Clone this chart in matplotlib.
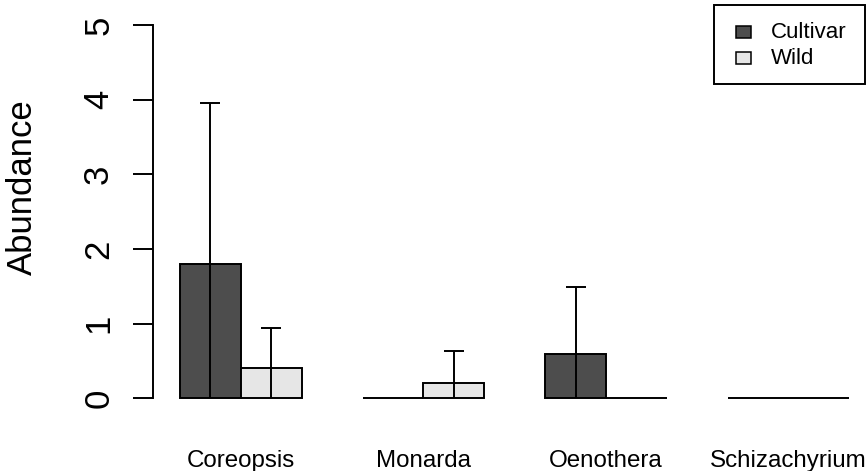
import matplotlib
matplotlib.use("Agg")
import matplotlib.pyplot as plt
from matplotlib.patches import Rectangle
import numpy as np

plt.rcParams['font.family'] = ['Liberation Sans', 'DejaVu Sans']

# data
species = ["Coreopsis", "Monarda", "Oenothera", "Schizachyrium"]
cultivar_mean = [1.8, 0.0, 0.6, 0.0]
cultivar_sd = [2.16, 0.0, 0.89, 0.0]
wild_mean = [0.4, 0.2, 0.0, 0.0]
wild_sd = [0.54, 0.44, 0.0, 0.0]
yticks = [0, 1, 2, 3, 4, 5]

W, H = 868, 471
fig = plt.figure(figsize=(W / 100, H / 100), dpi=100)
ax = fig.add_axes([0, 0, 1, 1])
ax.patch.set_alpha(0)

# pixel mapping of the R plot: x=1 at px 180, 60.85 px per bar; y=0 at px 398.3, 74.66 px per unit
xs = 60.85
ys = 74.66
ax.set_xlim(1 - 180 / xs, 1 + (W - 180) / xs)
ax.set_ylim(-(H - 398.3) / ys, 398.3 / ys)

centers = np.array([2, 5, 8, 11])
x_cult = centers - 0.5
x_wild = centers + 0.5

lw = 1.4
ax.bar(x_cult, cultivar_mean, width=1, color="#4d4d4d", edgecolor="black", linewidth=lw, zorder=2)
ax.bar(x_wild, wild_mean, width=1, color="#e6e6e6", edgecolor="black", linewidth=lw, zorder=2)

# error bars: line from baseline up to mean + sd, with a flat cap
cap = 10 / xs
for xpos, m, s in zip(list(x_cult) + list(x_wild), cultivar_mean + wild_mean, cultivar_sd + wild_sd):
    if s > 0:
        top = m + s
        ax.vlines(xpos, 0, top, color="black", linewidth=lw, zorder=3)
        ax.hlines(top, xpos - cap, xpos + cap, color="black", linewidth=lw, zorder=3)

# y axis like R's
for sp in ["top", "right", "bottom"]:
    ax.spines[sp].set_visible(False)
ax.spines["left"].set_position(("data", 0.56))
ax.spines["left"].set_bounds(0, 5)
ax.spines["left"].set_linewidth(lw)
ax.set_yticks(yticks)
ax.set_yticklabels([str(t) for t in yticks], rotation=90, va="center", fontsize=25)
ax.tick_params(axis="y", direction="out", length=14.4, width=lw, pad=13)
ax.set_xticks([])

# group names under the bars
for c, name in zip(centers, species):
    ax.text(c, -(467 - 398.3) / ys, name, ha="center", va="baseline", fontsize=17.4)

fig.text(22 / W, 1 - 187.5 / H, "Abundance", rotation=90, ha="center", va="center", fontsize=25)


# legend drawn in pixel positions
def fx(px):
    return px / W


def fy(py):
    return 1 - py / H


fig.add_artist(Rectangle((fx(714), fy(84)), fx(865) - fx(714), fy(5) - fy(84),
                         transform=fig.transFigure, facecolor="white", edgecolor="black", linewidth=lw))
for (top, bot, ycen), col, lab in zip([(26, 38, 32), (52, 64, 58)], ["#4d4d4d", "#e6e6e6"], ["Cultivar", "Wild"]):
    fig.add_artist(Rectangle((fx(736), fy(bot)), fx(751) - fx(736), fy(top) - fy(bot),
                             transform=fig.transFigure, facecolor=col, edgecolor="black", linewidth=1.1))
    fig.text(fx(771), fy(ycen), lab, ha="left", va="center", fontsize=16)

fig.savefig("out.png", dpi=100)
